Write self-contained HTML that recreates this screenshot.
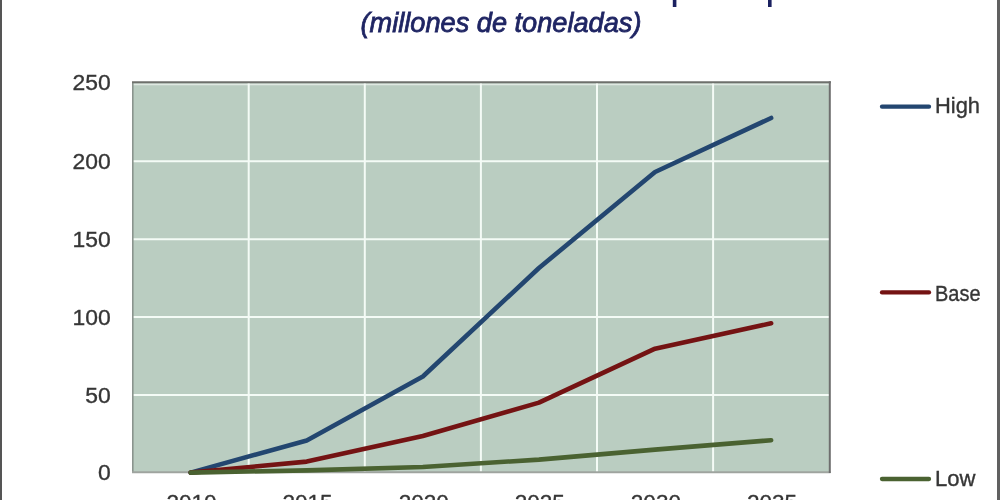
<!DOCTYPE html>
<html><head><meta charset="utf-8">
<style>
html,body{margin:0;padding:0;background:#fff;}
body{width:1000px;height:500px;overflow:hidden;position:relative;}
svg{position:absolute;left:0;top:0;filter:blur(0.45px);}
.edge{position:absolute;top:0;height:500px;}
text{font-family:"Liberation Sans",Arial,sans-serif;}
</style></head>
<body>
<svg width="1000" height="500" viewBox="0 0 1000 500">
  <rect x="0" y="0" width="1000" height="500" fill="#ffffff"/>
  <!-- cut-off previous title line -->
  <rect x="672.8" y="0" width="3.6" height="7" fill="#1b2160"/>
  <rect x="768" y="0" width="3.6" height="7" fill="#1b2160"/>
  <!-- subtitle -->
  <text x="360.5" y="31.6" font-size="28" font-style="italic" fill="#1f2563" stroke="#1f2563" stroke-width="0.8" textLength="281" lengthAdjust="spacingAndGlyphs">(millones de toneladas)</text>
  <!-- plot area -->
  <rect x="132.6" y="82.2" width="697.2" height="390.3" fill="#bacdc1"/>
  <g stroke="#f4fbf6" stroke-width="2">
    <line x1="132.6" y1="84.4" x2="829.8" y2="84.4" stroke="#dfe8e2" stroke-width="1.8"/>
    <line x1="132.6" y1="161.3" x2="829.8" y2="161.3"/>
    <line x1="132.6" y1="239.2" x2="829.8" y2="239.2"/>
    <line x1="132.6" y1="317.1" x2="829.8" y2="317.1"/>
    <line x1="132.6" y1="395.0" x2="829.8" y2="395.0"/>
    <line x1="248.7" y1="82.2" x2="248.7" y2="472.5"/>
    <line x1="364.8" y1="82.2" x2="364.8" y2="472.5"/>
    <line x1="480.9" y1="82.2" x2="480.9" y2="472.5"/>
    <line x1="597.0" y1="82.2" x2="597.0" y2="472.5"/>
    <line x1="713.1" y1="82.2" x2="713.1" y2="472.5"/>
  </g>
  <!-- borders -->
  <line x1="132.8" y1="82" x2="132.8" y2="473" stroke="#8a948e" stroke-width="1.6"/>
  <line x1="132" y1="472.3" x2="830.5" y2="472.3" stroke="#9fa49f" stroke-width="2"/>
  <line x1="132" y1="82.2" x2="830.8" y2="82.2" stroke="#6e706c" stroke-width="2"/>
  <line x1="829.8" y1="81.2" x2="829.8" y2="473" stroke="#6e6e6e" stroke-width="2"/>
  <!-- data lines -->
  <g fill="none" stroke-width="4.6" stroke-linecap="round" stroke-linejoin="round">
    <polyline stroke="#234670" points="190.65,472.6 306.75,440.5 422.85,376.5 538.95,268 655.05,172 771.15,118"/>
    <polyline stroke="#741313" points="190.65,472.6 306.75,461.6 422.85,436 538.95,402.6 655.05,348.7 771.15,323.3"/>
    <polyline stroke="#4a6231" points="190.65,472.6 306.75,470.4 422.85,467 538.95,459.6 655.05,449.6 771.15,440.2"/>
  </g>
  <!-- y labels -->
  <g font-size="22.9" fill="#363636" stroke="#363636" stroke-width="0.35" text-anchor="end">
    <text x="110.8" y="89.9">250</text>
    <text x="110.8" y="168.8">200</text>
    <text x="110.8" y="246.7">150</text>
    <text x="110.8" y="324.6">100</text>
    <text x="110.8" y="402.5">50</text>
    <text x="110.8" y="480.4">0</text>
  </g>
  <!-- x labels -->
  <g font-size="22.5" fill="#363636" stroke="#363636" stroke-width="0.35" text-anchor="middle">
    <text x="191.5" y="510">2010</text>
    <text x="307.6" y="510">2015</text>
    <text x="423.7" y="510">2020</text>
    <text x="539.8" y="510">2025</text>
    <text x="655.9" y="510">2030</text>
    <text x="772" y="510">2035</text>
  </g>
  <!-- legend -->
  <g stroke-width="4.3" stroke-linecap="round">
    <line x1="882" y1="106.7" x2="929" y2="106.7" stroke="#234670"/>
    <line x1="882" y1="292.4" x2="929" y2="292.4" stroke="#741313"/>
    <line x1="882" y1="479" x2="929" y2="479" stroke="#4a6231"/>
  </g>
  <g font-size="21.5" fill="#363636" stroke="#363636" stroke-width="0.35">
    <text x="935" y="113.3" textLength="45" lengthAdjust="spacingAndGlyphs">High</text>
    <text x="935" y="300.5" textLength="45.5" lengthAdjust="spacingAndGlyphs">Base</text>
    <text x="935" y="485.5" textLength="40.5" lengthAdjust="spacingAndGlyphs">Low</text>
  </g>
</svg>
<div class="edge" style="left:0;width:2px;background:#555555"></div>
<div class="edge" style="left:997px;width:3px;background:#606060"></div>
</body></html>
